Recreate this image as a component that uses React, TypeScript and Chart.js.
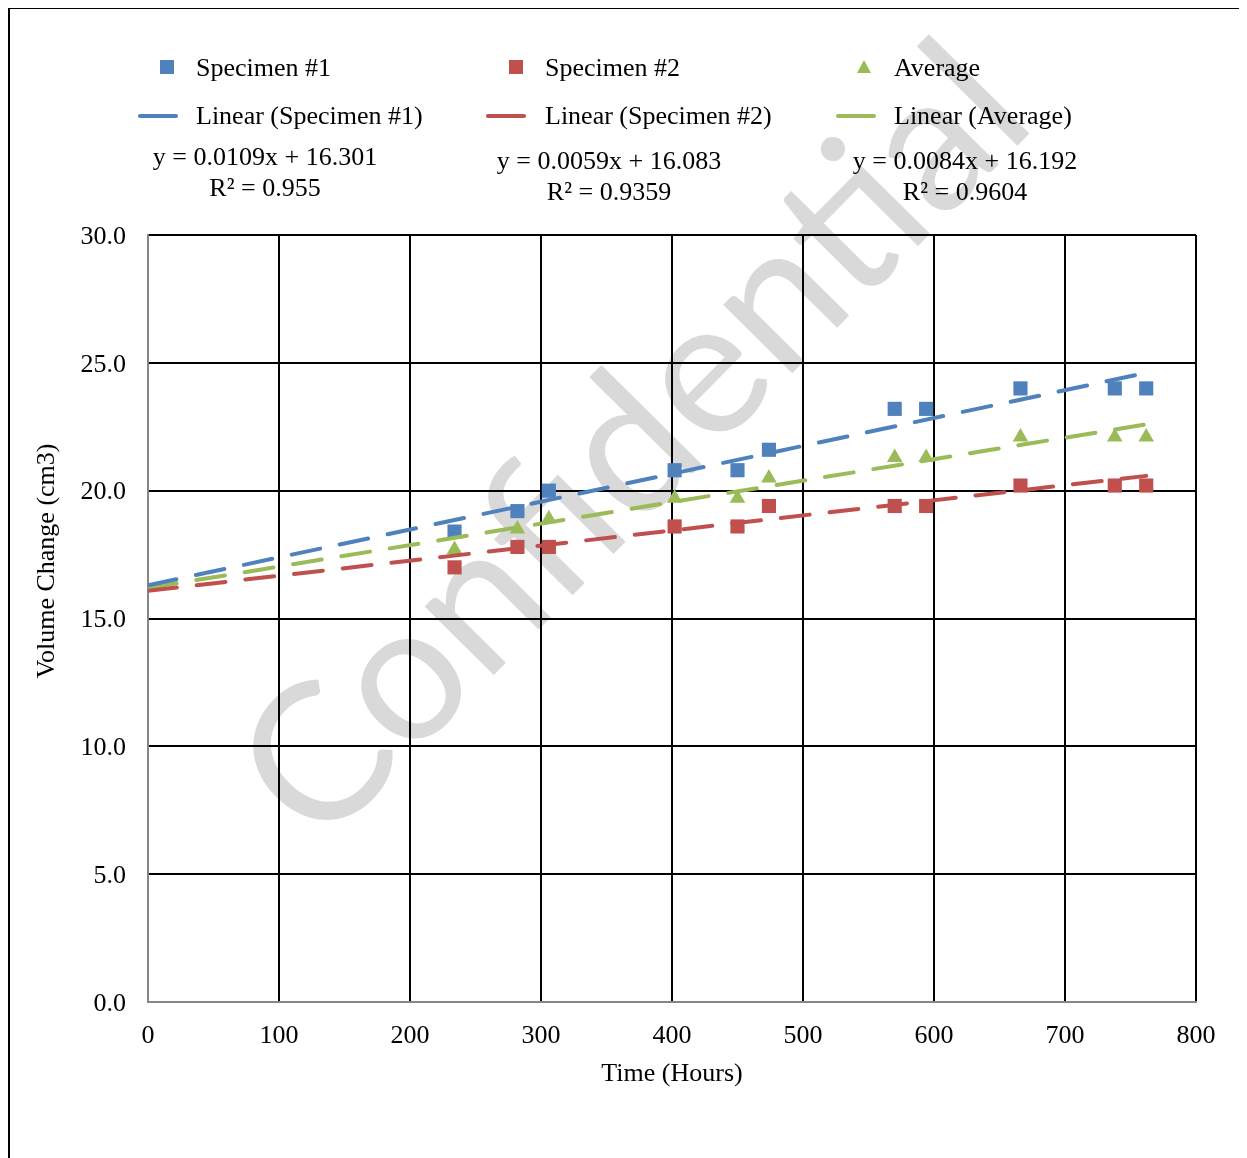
import React, { useEffect, useRef } from "react";
import { Chart, registerables } from "chart.js";

Chart.register(...registerables);

const hours = [234, 282, 306, 402, 450, 474, 570, 594, 666, 738, 762];
const specimen1 = [18.4, 19.2, 20.0, 20.8, 20.8, 21.6, 23.2, 23.2, 24.0, 24.0, 24.0];
const specimen2 = [17.0, 17.8, 17.8, 18.6, 18.6, 19.4, 19.4, 19.4, 20.2, 20.2, 20.2];
const average = [17.7, 18.5, 18.9, 19.7, 19.7, 20.5, 21.3, 21.3, 22.1, 22.1, 22.1];
const seriesNames = ["Specimen #1", "Specimen #2", "Average"];
const seriesColors = ["#4F81BD", "#C0504D", "#9BBB59"];
const trendSlopes = [0.0109, 0.0059, 0.0084];
const trendIntercepts = [16.301, 16.083, 16.192];
const trendR2 = ["0.955", "0.9359", "0.9604"];
const trendRange = [0, 762];
const xAxisTitle = "Time (Hours)";
const yAxisTitle = "Volume Change (cm3)";
const watermark = "Confidential";

const FONT = "'Liberation Serif', 'Times New Roman', serif";
const W = 1239;
const H = 1150;

const overlayPlugin = {
  id: "overlay",
  beforeDraw(chart: any) {
    const ctx = chart.ctx;
    ctx.save();
    ctx.fillStyle = "#ffffff";
    ctx.fillRect(0, 0, chart.width, chart.height);
    // watermark
    ctx.translate(627, 436);
    ctx.rotate((-45.3 * Math.PI) / 180);
    ctx.font = "192px Lato, 'Open Sans', sans-serif";
    ctx.fillStyle = "#d9d9d9";
    ctx.textAlign = "center";
    ctx.textBaseline = "middle";
    ctx.fillText(watermark, 0, 0);
    ctx.restore();
  },
  afterDraw(chart: any) {
    const ctx = chart.ctx;
    ctx.save();
    // frame
    ctx.strokeStyle = "#000";
    ctx.lineWidth = 2;
    ctx.beginPath();
    ctx.moveTo(1, H + 5);
    ctx.lineTo(1, 0);
    ctx.moveTo(0, 0);
    ctx.lineTo(W, 0);
    ctx.stroke();

    ctx.font = `26px ${FONT}`;
    ctx.fillStyle = "#000";
    ctx.textBaseline = "middle";
    ctx.textAlign = "left";
    const colX = [159, 508, 856];
    const textX = [188, 537, 886];
    const lineX = [[132, 168], [480, 516], [830, 866]];
    for (let i = 0; i < 3; i++) {
      const c = seriesColors[i];
      ctx.fillStyle = c;
      if (i < 2) {
        ctx.fillRect(colX[i] - 7, 59 - 7, 14, 14);
      } else {
        ctx.beginPath();
        ctx.moveTo(colX[i], 52);
        ctx.lineTo(colX[i] + 7, 65);
        ctx.lineTo(colX[i] - 7, 65);
        ctx.closePath();
        ctx.fill();
      }
      ctx.strokeStyle = c;
      ctx.lineWidth = 4;
      ctx.lineCap = "round";
      ctx.beginPath();
      ctx.moveTo(lineX[i][0], 108);
      ctx.lineTo(lineX[i][1], 108);
      ctx.stroke();
      ctx.fillStyle = "#000";
      ctx.fillText(seriesNames[i], textX[i], 61);
      ctx.fillText(`Linear (${seriesNames[i]})`, textX[i], 109);
    }
    // equations
    const eqX = [257, 601, 957];
    const eqY = [150, 154, 154];
    ctx.textAlign = "center";
    for (let i = 0; i < 3; i++) {
      ctx.fillText(`y = ${trendSlopes[i]}x + ${trendIntercepts[i].toFixed(3)}`, eqX[i], eqY[i]);
      ctx.fillText(`R² = ${trendR2[i]}`, eqX[i], eqY[i] + 31);
    }
    // y title
    ctx.translate(39, 553);
    ctx.rotate(-Math.PI / 2);
    ctx.fillText(yAxisTitle, 0, 0);
    ctx.restore();
  },
};

export default function App() {
  const ref = useRef<HTMLCanvasElement>(null);
  useEffect(() => {
    if (!ref.current) return;
    const series = [specimen1, specimen2, average];
    const scatterSets = series.map((vals, i) => ({
      label: seriesNames[i],
      data: hours.map((h, j) => ({ x: h, y: vals[j] })),
      backgroundColor: seriesColors[i],
      borderColor: seriesColors[i],
      borderWidth: 0,
      pointStyle: i < 2 ? "rect" : "triangle",
      pointRadius: i < 2 ? 10 : 9,
      showLine: false,
      order: 2,
    }));
    const trendSets = trendSlopes.map((m, i) => ({
      label: `Linear (${seriesNames[i]})`,
      data: trendRange.map((x) => ({ x, y: m * x + trendIntercepts[i] })),
      borderColor: seriesColors[i],
      backgroundColor: seriesColors[i],
      borderWidth: 4,
      borderDash: [29, 20],
      borderCapStyle: "round",
      pointRadius: 0,
      showLine: true,
      order: 1,
    }));
    const chart = new Chart(ref.current, {
      type: "scatter",
      data: { datasets: [...scatterSets, ...trendSets] as any },
      options: {
        animation: false,
        responsive: false,
        devicePixelRatio: 1,
        layout: { padding: { left: 0, right: 51, top: 227, bottom: 56 } },
        plugins: { legend: { display: false }, tooltip: { enabled: false } },
        scales: {
          x: {
            type: "linear",
            min: 0,
            max: 800,
            afterFit: (s: any) => { s.height = 100; },
            ticks: { stepSize: 100, padding: 19, color: "#000", font: { family: FONT, size: 26 } },
            grid: { color: "#000", lineWidth: 2, drawTicks: false },
            border: { color: "#868686", width: 2 },
            title: { display: true, text: xAxisTitle, color: "#000", font: { family: FONT, size: 26 }, padding: { top: 0, bottom: 12 } },
          },
          y: {
            type: "linear",
            min: 0,
            max: 30,
            afterFit: (s: any) => { s.width = 140; },
            ticks: { stepSize: 5, padding: 22, labelOffset: 2, color: "#000", font: { family: FONT, size: 26 }, callback: (v: any) => Number(v).toFixed(1) },
            grid: { color: "#000", lineWidth: 2, drawTicks: false },
            border: { color: "#868686", width: 2 },
          },
        },
      },
      plugins: [overlayPlugin],
    });
    return () => chart.destroy();
  }, []);
  return <canvas ref={ref} width={W} height={H} style={{ display: "block", width: W, height: H }} />;
}
